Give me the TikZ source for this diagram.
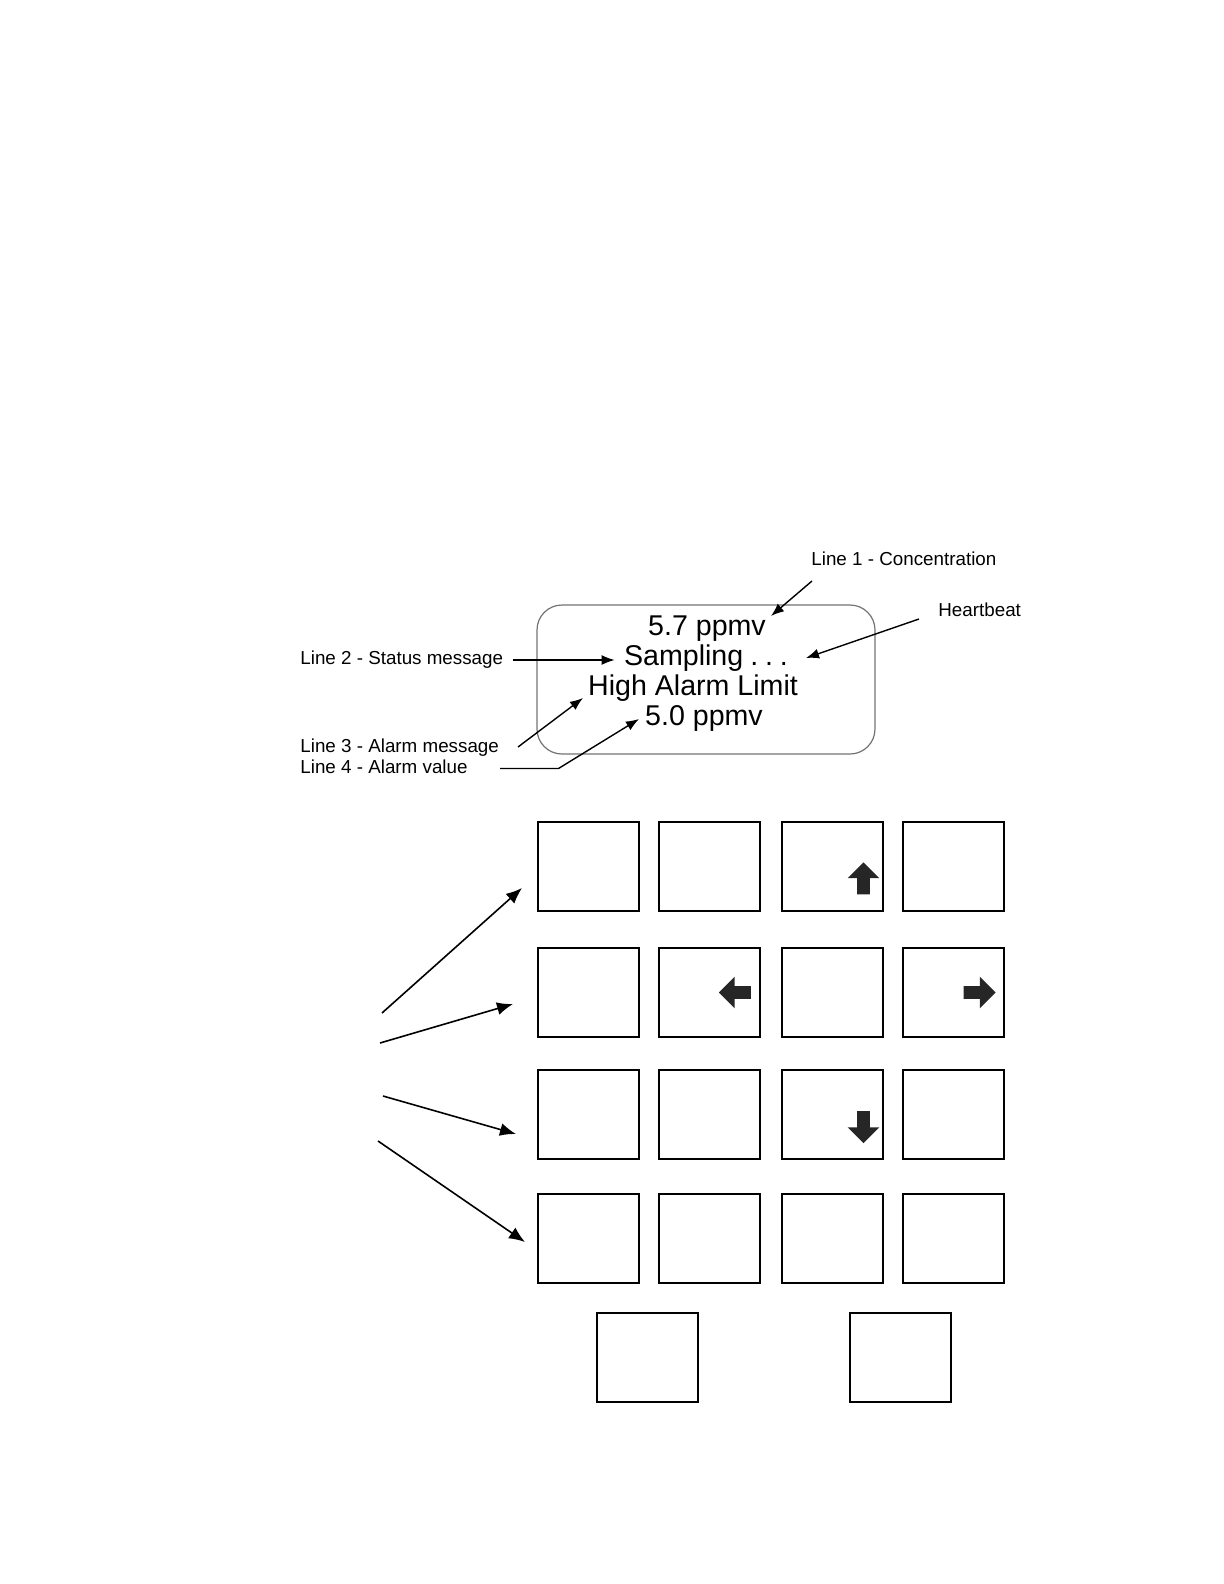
\documentclass[tikz,border=0pt]{standalone}
\usepackage{fontspec}
\setmainfont{Liberation Sans}
\usetikzlibrary{positioning,arrows.meta,shapes.arrows}

\begin{document}
\begin{tikzpicture}[
    x=0.5pt, y=-0.5pt,
    lbl/.style    = {font=\fontsize{9.4}{11}\selectfont, inner sep=0pt, anchor=west},
    disp/.style   = {font=\fontsize{14.3}{15}\selectfont, inner sep=0pt, anchor=base},
    screen/.style = {draw=black!55, line width=0.6pt, rounded corners=12.5pt,
                     minimum width=169pt, minimum height=74.5pt},
    ptr/.style    = {-{Latex[length=6.5pt,width=5pt]}, line width=0.7pt},
    bigptr/.style = {-{Latex[length=8pt,width=6.5pt]}, line width=0.8pt},
    key/.style    = {draw, line width=1pt, minimum width=50.5pt, minimum height=44.5pt, inner sep=0pt},
    blk/.style    = {single arrow, fill=black!85, draw=none, minimum width=15.5pt,
                     minimum height=16pt, single arrow head extend=4.75pt, inner sep=3pt},
]
\useasboundingbox (0,0) rectangle (1224,1584);

%======== TOP: display with its four lines ========
\node[screen] (screen) at (706,679.5) {};
\node[disp] (ln1) at (707,635) {5.7 ppmv};
\node[disp] (ln2) at (706,665) {Sampling\hspace{3.6pt}.\hspace{3.4pt}.\hspace{3.4pt}.};
\node[disp] (ln3) at (693,695) {High Alarm Limit};
\node[disp] (ln4) at (704,725) {5.0 ppmv};

% --- callouts
\node[lbl] (cap1) at (811,559) {Line 1 - Concentration};
\node[lbl] (beat) at (938,610) {Heartbeat};
\node[lbl] (cap2) at (300,660) {Line 2 - Status message};
\node[lbl] (cap3) at (300,748) {Line 3 - Alarm message};
\node[lbl] (cap4) at (300,767) {Line 4 - Alarm value};

\coordinate (c1a) at (812,581);  \coordinate (c1b) at (771,616);
\coordinate (hba) at (919,619);  \coordinate (hbb) at (806,658);
\coordinate (c3a) at (518,747);  \coordinate (c3b) at (583,698);
\coordinate (c4a) at (500,768.5); \coordinate (c4k) at (558.5,768.5);
\coordinate (c4b) at (639,719);

\draw[ptr] (c1a) -- (c1b);
\draw[ptr] (hba) -- (hbb);
\draw[ptr] ([xshift=4.5pt]cap2.east) -- ([xshift=-4.5pt]ln2.west |- cap2.east);
\draw[ptr] (c3a) -- (c3b);
\draw[ptr] (c4a) -- (c4k) -- (c4b);

%======== BOTTOM: keypad ========
\foreach \r/\y in {1/866, 2/992.5, 3/1114, 4/1238}
  \foreach \c/\x in {1/588.5, 2/709, 3/832, 4/953.5}
    \node[key] (k\r\c) at (\x,\y) {};
\node[key] (k51) at (647.5,1357) {};
\node[key] (k52) at (900,1357) {};

% --- cursor keys
\node[blk, shape border rotate=90]  (up)    at (863.5,881.5) {};
\node[blk, shape border rotate=180] (left)  at (738,992.5) {};
\node[blk, shape border rotate=0]   (right) at (976.5,992.5) {};
\node[blk, shape border rotate=270] (down)  at (863.5,1124) {};

% --- pointers to the key rows
\coordinate (p1a) at (382,1013); \coordinate (p1b) at (522,888);
\coordinate (p2a) at (380,1043); \coordinate (p2b) at (513,1004);
\coordinate (p3a) at (383,1096); \coordinate (p3b) at (516,1134);
\coordinate (p4a) at (378,1141); \coordinate (p4b) at (525,1242);
\foreach \i in {1,...,4} \draw[bigptr] (p\i a) -- (p\i b);

\end{tikzpicture}
\end{document}
